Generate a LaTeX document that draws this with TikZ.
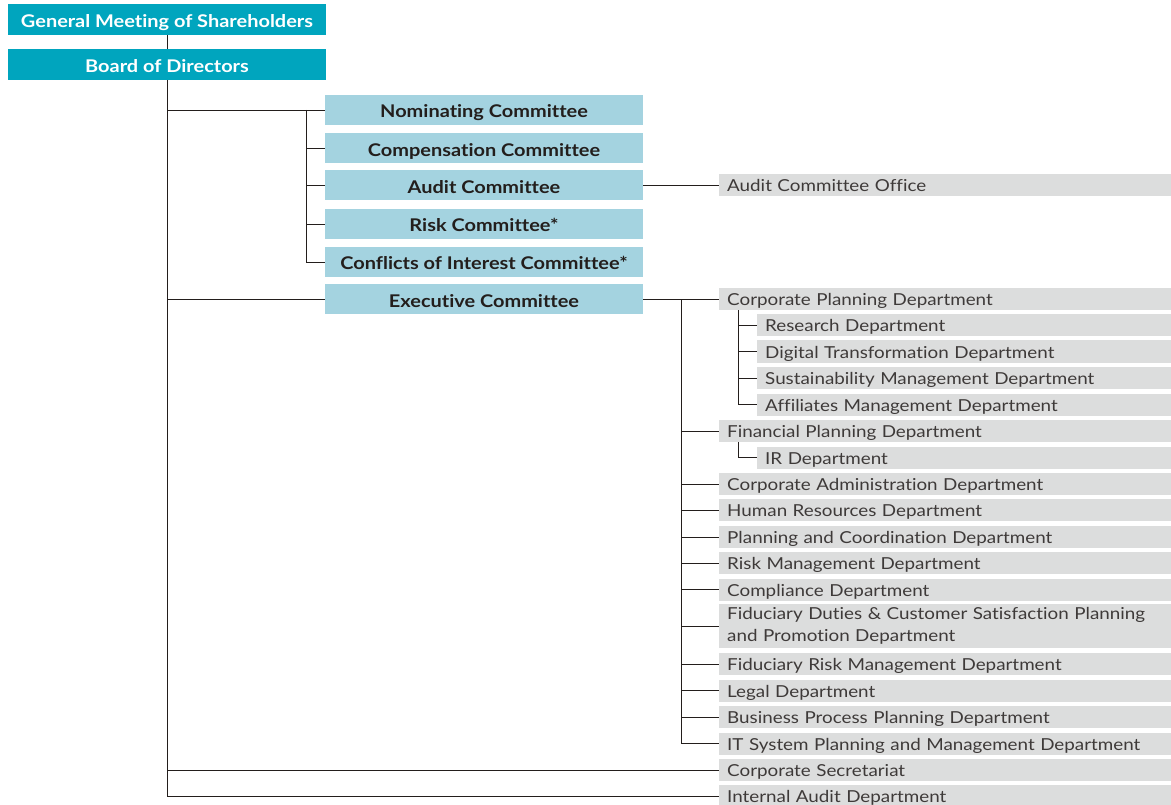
\documentclass[tikz,border=0pt]{standalone}
\usepackage{fontspec}
\setmainfont{Lato}[FakeStretch=1.14, Ligatures=NoCommon]
\usepackage{tikz}
\usetikzlibrary{positioning}
\definecolor{orgteal}{RGB}{0, 165, 190}
\definecolor{orgblue}{RGB}{164, 211, 224}
\definecolor{orggray}{RGB}{220, 221, 221}
\definecolor{orgink}{RGB}{35, 30, 28}
\definecolor{orgtext}{RGB}{62, 58, 57}

\begin{document}
\begin{tikzpicture}[x=1pt, y=-1pt,
  top/.style={fill=orgteal, text=white, font=\fontsize{17.5}{20}\selectfont\bfseries, minimum width=318pt, minimum height=31pt, inner sep=0pt, text height=15.5pt, text depth=0pt},
  cmte/.style={top, fill=orgblue, text=orgink, minimum height=30pt},
  dept/.style={fill=orggray, text=orgtext, font=\fontsize{16.5}{21.5}\selectfont, anchor=west, text width=437pt, align=left, minimum height=22pt, inner xsep=8pt, inner ysep=0pt, text height=13pt, text depth=0pt},
  sub/.style={dept, text width=399pt},
  link/.style={draw=orgink, line width=0.8pt}]
\useasboundingbox (0,0) rectangle (1171,805);

% shareholders and board
\node[top] (gms) at (167,19.5) {General Meeting of Shareholders};
\node[top] (bod) at (167,64.5) {Board of Directors};

% committees
\node[cmte] (nom) at (484,110) {Nominating Committee};
\node[cmte] (comp) at (484,148.5) {Compensation Committee};
\node[cmte] (audit) at (484,185.5) {Audit Committee};
\node[cmte] (risk) at (484,224) {Risk Committee*};
\node[cmte] (coi) at (484,262) {Conflicts of Interest Committee*};
\node[cmte] (exec) at (484,299.5) {Executive Committee};

% departments
\node[dept] (aco) at (719,185.5) {Audit Committee Office};
\node[dept] (cpd) at (719,299.5) {Corporate Planning Department};
\node[sub] (rsd) at (757,325) {Research Department};
\node[sub] (dtd) at (757,351.5) {Digital Transformation Department};
\node[sub] (smd) at (757,378) {Sustainability Management Department};
\node[sub] (amd) at (757,404.5) {Affiliates Management Department};
\node[dept] (fpd) at (719,431) {Financial Planning Department};
\node[sub] (ird) at (757,457.5) {IR Department};
\node[dept] (cad) at (719,484) {Corporate Administration Department};
\node[dept] (hrd) at (719,510) {Human Resources Department};
\node[dept] (pcd) at (719,537) {Planning and Coordination Department};
\node[dept] (rmd) at (719,563) {Risk Management Department};
\node[dept] (cmp) at (719,589.5) {Compliance Department};
\node[dept, minimum height=44pt, text height=, text depth=] (fdd) at (719,626) {Fiduciary Duties \& Customer Satisfaction Planning\\and Promotion Department};
\node[dept] (frd) at (719,664) {Fiduciary Risk Management Department};
\node[dept] (lgd) at (719,690.5) {Legal Department};
\node[dept] (bpd) at (719,717) {Business Process Planning Department};
\node[dept] (itd) at (719,743.5) {IT System Planning and Management Department};
\node[dept] (sec) at (719,770) {Corporate Secretariat};
\node[dept] (iad) at (719,796) {Internal Audit Department};

% board trunk
\draw[link] (gms) -- (bod);
\draw[link] (bod.south) |- (nom.west);
\draw[link] (bod.south) |- (exec.west);
\draw[link] (bod.south) |- (sec.west);
\draw[link] (bod.south) |- (iad.west);

% committee branch
\coordinate (csplit) at (306,110);
\draw[link] (csplit) |- (coi.west);
\draw[link] (csplit |- comp.west) -- (comp.west);
\draw[link] (csplit |- audit.west) -- (audit.west);
\draw[link] (csplit |- risk.west) -- (risk.west);
\draw[link] (audit.east) -- (aco.west);

% executive branch
\draw[link] (exec.east) -- (cpd.west);
\coordinate (esplit) at (681,299.5);
\draw[link] (esplit) |- (itd.west);
\draw[link] (esplit |- fpd.west) -- (fpd.west);
\draw[link] (esplit |- cad.west) -- (cad.west);
\draw[link] (esplit |- hrd.west) -- (hrd.west);
\draw[link] (esplit |- pcd.west) -- (pcd.west);
\draw[link] (esplit |- rmd.west) -- (rmd.west);
\draw[link] (esplit |- cmp.west) -- (cmp.west);
\draw[link] (esplit |- fdd.west) -- (fdd.west);
\draw[link] (esplit |- frd.west) -- (frd.west);
\draw[link] (esplit |- lgd.west) -- (lgd.west);
\draw[link] (esplit |- bpd.west) -- (bpd.west);

% planning sub-branches
\coordinate (psplit) at (738,310.5);
\draw[link] (psplit) |- (amd.west);
\draw[link] (psplit |- rsd.west) -- (rsd.west);
\draw[link] (psplit |- dtd.west) -- (dtd.west);
\draw[link] (psplit |- smd.west) -- (smd.west);
\coordinate (fsplit) at (738,442);
\draw[link] (fsplit) |- (ird.west);
\end{tikzpicture}
\end{document}
